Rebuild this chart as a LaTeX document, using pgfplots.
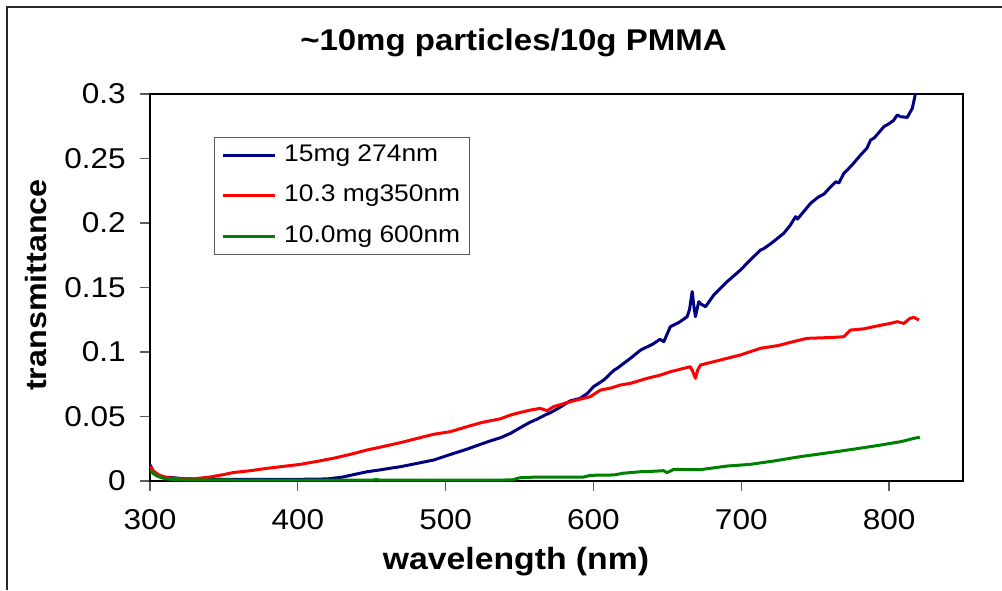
\documentclass[border=0pt]{standalone}
\usepackage{pgfplots}
\pgfplotsset{compat=1.18}
\usepackage{fontspec}
\setmainfont{Liberation Sans}[FakeStretch=1.1]

\definecolor{navyline}{RGB}{0,0,128}
\definecolor{redline}{RGB}{255,0,0}
\definecolor{greenline}{RGB}{0,128,0}
\definecolor{framegray}{RGB}{40,40,40}
\definecolor{tickgray}{RGB}{90,90,90}

\begin{document}
\begin{tikzpicture}
\useasboundingbox (0pt,0pt) rectangle (751.5pt,442.5pt);
% outer chart frame
\draw[framegray, line width=1.1pt] (5.25pt,0pt) -- (5.25pt,437.25pt) -- (751.5pt,437.25pt);

\begin{axis}[
  at={(112.5pt,81.75pt)}, anchor=south west,
  scale only axis, width=609.75pt, height=290.25pt,
  xmin=300, xmax=850, ymin=0, ymax=0.3,
  xtick={300,400,500,600,700,800},
  xticklabels={300,400,500,600,700,800},
  ytick={0,0.05,0.1,0.15,0.2,0.25,0.3},
  yticklabels={0,0.05,0.1,0.15,0.2,0.25,0.3},
  tick align=outside, major tick length=7.5pt,
  tick style={tickgray, line width=0.9pt},
  xtick pos=bottom, ytick pos=left,
  axis line style={black, line width=1.5pt},
  ticklabel style={font=\fontsize{21.5}{24}\selectfont},
  yticklabel style={anchor=east, inner sep=0pt, xshift=-10.5pt},
  xticklabel style={anchor=north, inner sep=0pt, yshift=-13.75pt},
  /pgf/number format/assume math mode=true,
  legend style={
    at={(0.0787,0.889)}, anchor=north west,
    draw=tickgray, line width=0.8pt,
    font=\fontsize{18}{20}\selectfont,
    inner xsep=5pt, inner ysep=3pt,
    row sep=9.25pt,
    nodes={text height=13pt, text depth=4pt, inner sep=2pt}
  },
  legend cell align=left,
  legend image code/.code={\draw[#1, line width=2.2pt] (0pt,0pt) -- (39pt,0pt);
    \path (43pt,0pt);},
  every axis plot/.append style={line width=2.25pt, line join=round},
]

% 15mg, 274 nm particles
\addplot[navyline] coordinates {
(300,0.0125) (302,0.008) (305,0.0045) (310,0.003) (316,0.0025) (325,0.0016)
(340,0.0014) (360,0.0013) (380,0.0012) (400,0.0013) (420,0.0016) (430,0.003)
(440,0.0055) (447,0.0072) (455,0.0085) (462,0.0098) (469,0.011) (480,0.0135)
(492,0.0163) (503,0.0205) (514,0.0245) (520,0.027) (530,0.031) (537,0.0335)
(544,0.037) (550,0.041) (557,0.0455) (562,0.048) (567,0.051) (571,0.053)
(578,0.0576) (584,0.062) (591,0.0641) (596,0.068) (600,0.0731) (607,0.0783)
(614,0.086) (616,0.0873) (625,0.0951) (632,0.1016) (640,0.106) (645,0.1098)
(647.6,0.108) (652,0.1196) (658,0.123) (663.4,0.1274) (665,0.133) (666.8,0.1468)
(668,0.135) (669,0.1274) (671.2,0.139) (673,0.137) (675.8,0.1351) (681.4,0.1442)
(690.4,0.1545) (699.5,0.1636) (706,0.1713) (713,0.179) (715,0.180) (720,0.184)
(728.7,0.192) (733,0.198) (736.7,0.2049) (738,0.203) (746.9,0.2153) (752,0.220)
(756,0.2225) (760.4,0.228) (764,0.232) (766,0.231) (769.4,0.2385) (775,0.245)
(780.7,0.2527) (785,0.258) (787.5,0.2643) (790,0.266) (796.5,0.2747) (800,0.277)
(803,0.2795) (805.5,0.2837) (807.8,0.2824) (812.3,0.2819) (815.7,0.2889)
(817.9,0.3005) (819.5,0.31)
};
\addlegendentry{15mg 274nm}

% 10.3 mg, 350 nm particles
\addplot[redline] coordinates {
(300,0.0115) (302,0.008) (306,0.0047) (311,0.0026) (320,0.0018) (329,0.0016)
(340,0.003) (350,0.005) (356,0.0065) (368,0.008) (379,0.0098) (390,0.0113)
(401.6,0.0129) (412,0.015) (424,0.0176) (435,0.0205) (446.7,0.024) (458,0.0268)
(469.3,0.0297) (480,0.0328) (491.8,0.0362) (503,0.0382) (514.4,0.0421)
(525,0.0455) (537,0.0482) (544,0.0512) (550,0.053) (557.3,0.055) (564,0.0563)
(568.8,0.0545) (572.9,0.0576) (584.4,0.0615) (597.9,0.0654) (604.7,0.0705)
(611.5,0.072) (618.2,0.0744) (625,0.0757) (636.3,0.0796) (645,0.082)
(652,0.0847) (660,0.087) (665.6,0.0886) (667.5,0.084) (669,0.0796) (670.5,0.086)
(672.4,0.0899) (685.9,0.0938) (699.5,0.0977) (713,0.1029) (725,0.105)
(735,0.108) (744.6,0.1106) (755,0.111) (765,0.1115) (769.4,0.1119) (773.9,0.117)
(783,0.118) (792,0.1202) (800,0.122) (805.5,0.1235) (810,0.1222) (814,0.126)
(816.8,0.1269) (820.2,0.1248)
};
\addlegendentry{10.3 mg350nm}

% 10.0 mg, 600 nm particles
\addplot[greenline] coordinates {
(300,0.0085) (302,0.006) (304.5,0.004) (308,0.0025) (311,0.0016) (320,0.0009)
(350,0.0008) (400,0.0006) (450,0.0006) (453,0.0012) (456,0.0006) (500,0.0006)
(545,0.0008) (550,0.0025) (560,0.003) (593,0.003) (598,0.0044) (614,0.0047)
(620,0.006) (632,0.0072) (640,0.0075) (647.5,0.008) (649.8,0.0065) (654.3,0.009)
(672.4,0.0088) (690.5,0.0116) (706,0.0129) (722,0.0155) (740,0.0189)
(756,0.0214) (772,0.024) (790,0.0271) (808,0.0305) (817,0.0331) (820.8,0.0339)
};
\addlegendentry{10.0mg 600nm}
\end{axis}

\node[font=\bfseries\fontsize{22.5}{26}\selectfont] at (385.1pt,410.25pt) {\textasciitilde10mg particles/10g PMMA};
\node[font=\bfseries\fontsize{23}{26}\selectfont] at (387pt,21pt) {wavelength (nm)};
\node[font=\bfseries\fontsize{22}{26}\selectfont, rotate=90] at (27pt,228.75pt) {transmittance};
\end{tikzpicture}
\end{document}
